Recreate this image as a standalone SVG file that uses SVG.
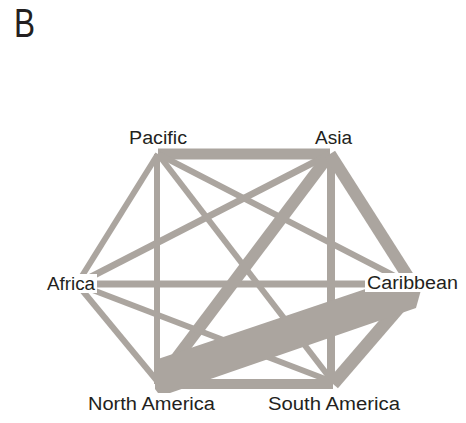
<svg xmlns="http://www.w3.org/2000/svg" width="466" height="423" viewBox="0 0 466 423">
<style>
.e{stroke:#aba59f;fill:none;stroke-linecap:butt}
.bg{fill:#fff}
.t{font-family:"Liberation Sans",Arial,sans-serif;font-size:18px;fill:#231f20}
</style>
<rect width="466" height="423" fill="#fff"/>
<text x="14" y="37" font-family="Liberation Sans,Arial,sans-serif" font-size="40" fill="#231f20" textLength="21" lengthAdjust="spacingAndGlyphs">B</text>
<g id="connectors">
<line class="e" x1="158" y1="154" x2="330" y2="154" stroke-width="11"/>
<line class="e" x1="158" y1="154" x2="77" y2="284" stroke-width="6"/>
<line class="e" x1="157" y1="154" x2="157" y2="384" stroke-width="6"/>
<line class="e" x1="158" y1="154" x2="333" y2="382" stroke-width="6"/>
<line class="e" x1="158" y1="154" x2="414" y2="286" stroke-width="6"/>
<line class="e" x1="330" y1="154" x2="77" y2="284" stroke-width="7"/>
<line class="e" x1="330" y1="154" x2="160" y2="380" stroke-width="12"/>
<line class="e" x1="331" y1="154" x2="331" y2="382" stroke-width="8"/>
<line class="e" x1="330" y1="154" x2="414" y2="286" stroke-width="12"/>
<line class="e" x1="77" y1="284" x2="414" y2="284" stroke-width="7"/>
<line class="e" x1="77" y1="284" x2="158" y2="382" stroke-width="6"/>
<line class="e" x1="77" y1="284" x2="333" y2="382" stroke-width="6"/>
<line class="e" x1="158" y1="384" x2="333" y2="384" stroke-width="10"/>
<line class="e" x1="333" y1="384" x2="414" y2="290" stroke-width="13"/>
<polygon points="155,360 404,276 421,290 416,308 170,393 158,393 155,389" fill="#aba59f"/>
</g>
<g id="pacific"><rect class="bg" x="127" y="129" width="62" height="18"/><text class="t" x="129" y="144" textLength="58" lengthAdjust="spacingAndGlyphs">Pacific</text></g>
<g id="asia"><rect class="bg" x="313" y="129" width="41" height="18"/><text class="t" x="315" y="144" textLength="37" lengthAdjust="spacingAndGlyphs">Asia</text></g>
<g id="africa"><rect class="bg" x="45" y="274" width="52" height="19"/><text class="t" x="47" y="290" textLength="48" lengthAdjust="spacingAndGlyphs">Africa</text></g>
<g id="caribbean"><rect class="bg" x="365" y="273" width="96" height="19"/><text class="t" x="367" y="289" textLength="91" lengthAdjust="spacingAndGlyphs">Caribbean</text></g>
<g id="north-america"><rect class="bg" x="86" y="395" width="131" height="19"/><text class="t" x="88" y="410" textLength="127" lengthAdjust="spacingAndGlyphs">North America</text></g>
<g id="south-america"><rect class="bg" x="266" y="395" width="136" height="19"/><text class="t" x="268" y="410" textLength="132" lengthAdjust="spacingAndGlyphs">South America</text></g>
</svg>
